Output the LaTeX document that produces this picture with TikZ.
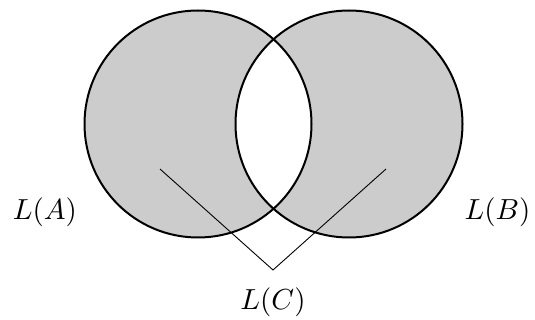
\documentclass[tikz,border=0pt]{standalone}
\tikzset{
  setline/.style={line width=2pt},
  lbl/.style={scale=2.9, inner sep=0pt},
  pointer/.style={line width=0.9pt}
}
\begin{document}
\begin{tikzpicture}[x=1pt,y=-1pt]
\useasboundingbox (0,0) rectangle (535,320);
\fill[black!20, even odd rule] (198,124) circle[radius=113.5] (349,124) circle[radius=113.5];
\draw[setline] (198,124) circle[radius=113.5];
\draw[setline] (349,124) circle[radius=113.5];
\coordinate (pa) at (160,169);
\coordinate (pc) at (273,270);
\coordinate (pb) at (386,169);
\draw[pointer] (pa) -- (pc) -- (pb);
\node[lbl] (la) at (45,212) {$L(A)$};
\node[lbl] (lb) at (497.5,212) {$L(B)$};
\node[lbl] (lc) at (273,302) {$L(C)$};
\end{tikzpicture}
\end{document}
